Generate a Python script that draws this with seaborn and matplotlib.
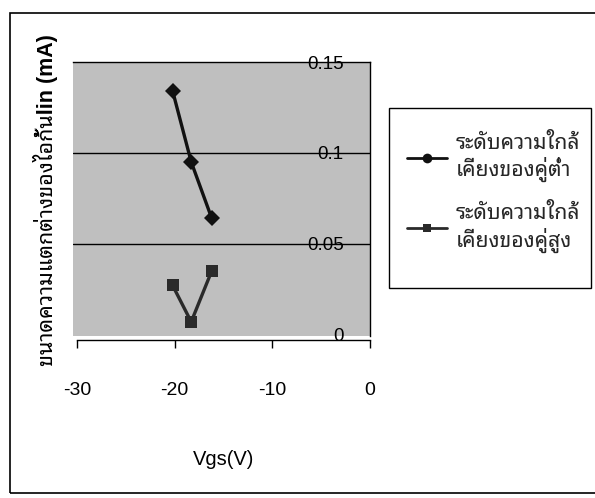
import matplotlib
matplotlib.use("Agg")
import matplotlib.pyplot as plt
from matplotlib.patches import Rectangle
from matplotlib.lines import Line2D
import seaborn as sns
import pandas as pd

# ---- data ----
vgs = [-20.2, -18.3, -16.2]
diff_low = [0.134, 0.095, 0.064]
diff_high = [0.027, 0.007, 0.035]
series_names = ["ระดับความใกล้\nเคียงของคู่ต่ำ", "ระดับความใกล้\nเคียงของคู่สูง"]
x_ticks = [-30, -20, -10, 0]
x_tick_labels = ["-30", "-20", "-10", "0"]
y_ticks = [0, 0.05, 0.1, 0.15]
y_tick_labels = ["0", "0.05", "0.1", "0.15"]
x_label = "Vgs(V)"
y_label = "ขนาดความแตกต่างของไอกั้นlin (mA)"

df = pd.DataFrame({
    "Vgs": vgs + vgs,
    "diff": diff_low + diff_high,
    "series": [series_names[0]] * len(vgs) + [series_names[1]] * len(vgs),
})

sns.set_theme(style="white")
plt.rcParams["font.family"] = ["Liberation Sans", "Noto Sans Thai Looped"]

W, H = 595, 498
fig = plt.figure(figsize=(W / 100, H / 100), dpi=100)
fig.patch.set_facecolor("white")

# outer chart frame
fig.add_artist(Rectangle((10 / W, 1 - 493 / H), (W + 20) / W, (493 - 13) / H,
                         transform=fig.transFigure, fill=False,
                         edgecolor="black", linewidth=1.2, clip_on=False))

ax_l, ax_r, ax_t, ax_b = 73, 370, 62, 336
ax = fig.add_axes([ax_l / W, 1 - ax_b / H, (ax_r - ax_l) / W, (ax_b - ax_t) / H])
ax.set_facecolor("#bfbfbf")

colors = {series_names[0]: "#111111", series_names[1]: "#2a2a2a"}
sns.lineplot(data=df, x="Vgs", y="diff", hue="series", style="series",
             markers={series_names[0]: "D", series_names[1]: "s"}, dashes=False,
             palette=colors, linewidth=2.4, markersize=8, markeredgewidth=0,
             ax=ax, legend=False, zorder=5)

ax.set_xlim(-30.4, 0)
ax.set_ylim(-0.0008, 0.15)

for v in [0.05, 0.1]:
    ax.axhline(v, color="black", linewidth=1.0, zorder=2)

ax.spines["left"].set_visible(False)
for s in ["top", "right", "bottom"]:
    ax.spines[s].set_linewidth(1.0)
    ax.spines[s].set_color("black")
ax.spines["bottom"].set_bounds(-30, 0)
ax.spines["bottom"].set_position(("outward", 3))

ax.set_xticks(x_ticks)
ax.set_xticklabels(x_tick_labels)
ax.tick_params(axis="x", direction="out", length=6, width=1.0, color="black",
               bottom=True, pad=24, labelsize=14, labelcolor="black")

ax.yaxis.tick_right()
ax.set_yticks(y_ticks)
ax.set_yticklabels(y_tick_labels)
ax.tick_params(axis="y", length=0, pad=-19, labelsize=13.5, labelcolor="black")
for lab in ax.get_yticklabels():
    lab.set_horizontalalignment("right")
    lab.set_zorder(3)

ax.set_xlabel(x_label, fontsize=14.5, color="black")
ax.xaxis.set_label_coords((224 - ax_l) / (ax_r - ax_l), -(450 - ax_b) / (ax_b - ax_t))
ax.set_ylabel(y_label, fontsize=15.5, fontweight="bold", color="black")
ax.yaxis.set_label_position("left")
ax.yaxis.set_label_coords((58 - ax_l) / (ax_r - ax_l), (ax_b - 200) / (ax_b - ax_t))

# legend box
fig.add_artist(Rectangle((389 / W, 1 - 288 / H), (591 - 389) / W, (288 - 108) / H,
                         transform=fig.transFigure, facecolor="white",
                         edgecolor="black", linewidth=1.0, zorder=1))
handles = [
    Line2D([], [], color=colors[series_names[0]], marker="o", markersize=7,
           linewidth=2.0, markeredgewidth=0),
    Line2D([], [], color=colors[series_names[1]], marker="s", markersize=6,
           linewidth=2.0, markeredgewidth=0),
]
leg = fig.legend(handles, series_names, loc="upper left",
                 bbox_to_anchor=(407 / W, 1 - 133 / H), bbox_transform=fig.transFigure,
                 frameon=False, fontsize=15.2, handlelength=1.9, handletextpad=0.42,
                 labelspacing=1.0, borderpad=0, borderaxespad=0)
leg.set_zorder(2)
for t in leg.get_texts():
    t.set_linespacing(1.22)

fig.savefig("out.png", dpi=100)
